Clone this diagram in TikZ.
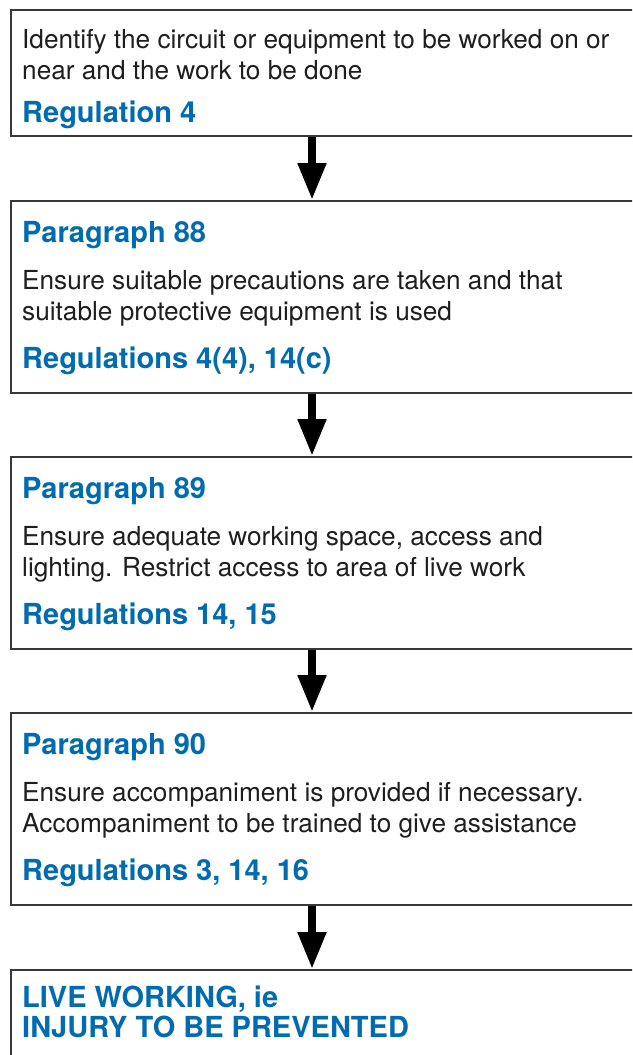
\documentclass[tikz,border=0pt]{standalone}
\usepackage{fontspec}
\setmainfont{TeX Gyre Heros}
\usetikzlibrary{arrows.meta}
\definecolor{hseblue}{RGB}{0,107,176}
\definecolor{bodytext}{RGB}{30,30,30}
\tikzset{
  >={Triangle[length=37pt,width=27pt]},
}
\tikzstyle{box}=[draw=black!78,line width=1.5pt,rectangle,anchor=north west,minimum width=660pt,inner sep=0pt]
\tikzstyle{body}=[anchor=base west,inner sep=0pt,align=left,text=bodytext,font=\fontsize{26.2}{31}\selectfont]
\tikzstyle{head}=[anchor=base west,inner sep=0pt,align=left,text=hseblue,font=\fontsize{29}{30}\selectfont\bfseries]
\tikzstyle{flow}=[line width=8pt,->]

\begin{document}
\begin{tikzpicture}[x=1pt,y=-1pt]
    \useasboundingbox (0,0) rectangle (632,1055);
    \clip (0,0) rectangle (632,1055);
    % first step (base of a two-line node is its last line)
    \node[box,minimum height=126pt] (reg4) at (10,9) {};
    \node[body] (reg4-body) at ([xshift=12pt,yshift=-70pt]reg4.north west)
      {Identify the circuit or equipment to be worked on or\\near and the work to be done};
    \node[head] (reg4-ref) at ([xshift=12pt,yshift=-113pt]reg4.north west) {Regulation 4};
    % paragraph 88
    \node[box,minimum height=192pt] (para88) at (10,200) {};
    \node[head] (para88-title) at ([xshift=12pt,yshift=-42pt]para88.north west) {Paragraph 88};
    \node[body] (para88-body) at ([xshift=12pt,yshift=-120pt]para88.north west)
      {Ensure suitable precautions are taken and that\\suitable protective equipment is used};
    \node[head] (para88-ref) at ([xshift=12pt,yshift=-168pt]para88.north west) {Regulations 4(4), 14(c)};
    % paragraph 89
    \node[box,minimum height=192pt] (para89) at (10,456) {};
    \node[head] (para89-title) at ([xshift=12pt,yshift=-42pt]para89.north west) {Paragraph 89};
    \node[body] (para89-body) at ([xshift=12pt,yshift=-120pt]para89.north west)
      {Ensure adequate working space, access and\\lighting. Restrict access to area of live work};
    \node[head] (para89-ref) at ([xshift=12pt,yshift=-168pt]para89.north west) {Regulations 14, 15};
    % paragraph 90
    \node[box,minimum height=192pt] (para90) at (10,712) {};
    \node[head] (para90-title) at ([xshift=12pt,yshift=-42pt]para90.north west) {Paragraph 90};
    \node[body] (para90-body) at ([xshift=12pt,yshift=-120pt]para90.north west)
      {Ensure accompaniment is provided if necessary.\\Accompaniment to be trained to give assistance};
    \node[head] (para90-ref) at ([xshift=12pt,yshift=-168pt]para90.north west) {Regulations 3, 14, 16};
    % outcome
    \node[box,minimum height=120pt] (live) at (10,969) {};
    \node[head] (live-txt) at ([xshift=12pt,yshift=-68pt]live.north west) {LIVE WORKING, ie\\INJURY TO BE PREVENTED};
    % arrows
    \draw[flow] ([xshift=302pt]reg4.south west) -- ([xshift=302pt]para88.north west);
    \draw[flow] ([xshift=302pt]para88.south west) -- ([xshift=302pt]para89.north west);
    \draw[flow] ([xshift=302pt]para89.south west) -- ([xshift=302pt]para90.north west);
    \draw[flow] ([xshift=302pt]para90.south west) -- ([xshift=302pt]live.north west);
  \end{tikzpicture}
\end{document}
